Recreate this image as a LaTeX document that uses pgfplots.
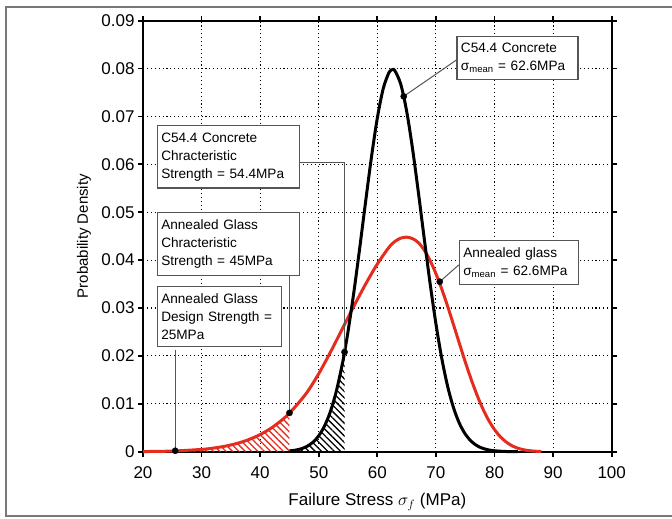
\documentclass[border=0pt]{standalone}
\usepackage{fontspec}
\setmainfont{Liberation Sans}
\usepackage{pgfplots}
\pgfplotsset{compat=1.18}
\usepgfplotslibrary{fillbetween}
\usetikzlibrary{patterns.meta}

\definecolor{glassred}{RGB}{228,45,30}
\definecolor{boxgray}{RGB}{85,85,85}
\definecolor{framegray}{RGB}{120,120,120}

\begin{document}
\begin{tikzpicture}
\begin{axis}[
    scale only axis,
    width=468.7pt, height=431pt,
    xmin=20, xmax=100, ymin=0, ymax=0.09,
    scaled y ticks=false,
    xtick={20,30,40,50,60,70,80,90,100},
    xticklabels={20,30,40,50,60,70,80,90,100},
    ytick={0,0.01,0.02,0.03,0.04,0.05,0.06,0.07,0.08,0.09},
    yticklabels={0,0.01,0.02,0.03,0.04,0.05,0.06,0.07,0.08,0.09},
    /pgf/number format/assume math mode=true,
    tick label style={font=\fontsize{17}{20}\selectfont},
    xticklabel style={yshift=-6pt},
    tick align=outside,
    major tick length=5pt,
    tick style={line width=1.8pt, black},
    axis line style={line width=2pt},
    grid=major,
    grid style={black, line width=1.1pt, dash pattern=on 1.1pt off 2.8pt},
    xlabel={Failure Stress $\sigma_f$ (MPa)},
    ylabel={Probability Density},
    xlabel style={font=\fontsize{17}{20}\selectfont, at={(rel axis cs:0.5,-0.117)}, anchor=center},
    ylabel style={font=\fontsize{15}{18}\selectfont, at={(rel axis cs:-0.126,0.5)}, anchor=center},
    clip=false,
]
% baseline for the hatched areas
\addplot[draw=none, name path=base] coordinates {(20,0) (100,0)};

% annealed glass
\addplot[draw=none, name path=glass, forget plot] coordinates {
 (20,0.00003) (25,0.00013) (30,0.00048) (32,0.00075) (34,0.00115) (36,0.00171)
 (38,0.00250) (40,0.00358) (42,0.00502) (44,0.00690) (45,0.00810) (46,0.00940)
 (48,0.01240) (50,0.01630) (52,0.02080) (54,0.02560) (56,0.03040) (58,0.03500)
 (60,0.03920) (62,0.04270) (63,0.04390) (64,0.04460) (65,0.04480) (66,0.04450)
 (67,0.04366) (68,0.04210) (69,0.03992) (70,0.03717) (71,0.03394) (72,0.03035)
 (73,0.02652) (74,0.02262) (75,0.01878) (76,0.01516) (77,0.01187) (78,0.00898)
 (79,0.00656) (80,0.00461) (81,0.00311) (82,0.00201) (83,0.00123) (84,0.00072)
 (85,0.00040) (86,0.00021) (87,0.00010) (88,0.00005)
};

% C54.4 concrete
\addplot[draw=none, name path=conc, forget plot] coordinates {
 (45,0.00017) (46,0.00032) (47,0.00061) (48,0.00112) (49,0.00197) (50,0.00333)
 (51,0.00541) (52,0.00843) (53,0.01263) (54,0.01818) (54.4,0.02079) (55,0.02514)
 (56,0.03339) (57,0.04262) (58,0.05226) (59,0.06157) (60,0.06970) (61,0.07581)
 (62,0.07922) (62.6,0.07979) (63,0.07954) (64,0.07672) (65,0.07111) (66,0.06332)
 (67,0.05418) (68,0.04453) (69,0.03517) (70,0.02669) (71,0.01946) (72,0.01363)
 (73,0.00918) (74,0.00593) (75,0.00369) (76,0.00220) (77,0.00126) (78,0.00070)
 (79,0.00037) (80,0.00019) (82,0.00004) (84,0)
};

\addplot[pattern={Lines[angle=-45, distance=4.5pt, line width=1.3pt]}, pattern color=glassred]
    fill between[of=glass and base, soft clip={domain=20:45}];
\addplot[pattern={Lines[angle=-45, distance=4.5pt, line width=1.3pt]}, pattern color=black]
    fill between[of=conc and base, soft clip={domain=45:54.4}];

\addplot[glassred, line width=3pt, smooth] coordinates {
 (20,0.00003) (25,0.00013) (30,0.00048) (32,0.00075) (34,0.00115) (36,0.00171)
 (38,0.00250) (40,0.00358) (42,0.00502) (44,0.00690) (45,0.00810) (46,0.00940)
 (48,0.01240) (50,0.01630) (52,0.02080) (54,0.02560) (56,0.03040) (58,0.03500)
 (60,0.03920) (62,0.04270) (63,0.04390) (64,0.04460) (65,0.04480) (66,0.04450)
 (67,0.04366) (68,0.04210) (69,0.03992) (70,0.03717) (71,0.03394) (72,0.03035)
 (73,0.02652) (74,0.02262) (75,0.01878) (76,0.01516) (77,0.01187) (78,0.00898)
 (79,0.00656) (80,0.00461) (81,0.00311) (82,0.00201) (83,0.00123) (84,0.00072)
 (85,0.00040) (86,0.00021) (87,0.00010) (88,0.00005)
};
\addplot[black, line width=3pt, smooth] coordinates {
 (45,0.00017) (46,0.00032) (47,0.00061) (48,0.00112) (49,0.00197) (50,0.00333)
 (51,0.00541) (52,0.00843) (53,0.01263) (54,0.01818) (54.4,0.02079) (55,0.02514)
 (56,0.03339) (57,0.04262) (58,0.05226) (59,0.06157) (60,0.06970) (61,0.07581)
 (62,0.07922) (62.6,0.07979) (63,0.07954) (64,0.07672) (65,0.07111) (66,0.06332)
 (67,0.05418) (68,0.04453) (69,0.03517) (70,0.02669) (71,0.01946) (72,0.01363)
 (73,0.00918) (74,0.00593) (75,0.00369) (76,0.00220) (77,0.00126) (78,0.00070)
 (79,0.00037) (80,0.00019) (82,0.00004) (84,0)
};

% leader lines
\draw[boxgray, line width=1pt] (axis cs:73.5,0.0818) -- (axis cs:64.5,0.0742);
\draw[boxgray, line width=1pt] (axis cs:46.7,0.0603) -| (axis cs:54.4,0.0208);
\draw[boxgray, line width=1pt] (axis cs:45,0.0366) -- (axis cs:45,0.0081);
\draw[boxgray, line width=1pt] (axis cs:25.5,0.0213) -- (axis cs:25.5,0.0002);
\draw[boxgray, line width=1pt] (axis cs:73.9,0.0390) -- (axis cs:70.65,0.0355);

% marked points
\addplot[only marks, mark=*, mark size=3.1pt, black] coordinates {
 (64.5,0.0742) (54.4,0.0208) (45,0.0081) (25.5,0.0002) (70.65,0.0355)
};

% annotation boxes
\tikzset{annot/.style={draw=boxgray, line width=1.1pt, fill=white, anchor=north west,
    align=left, inner xsep=4pt, inner ysep=7pt,
    font=\fontsize{13.6}{18}\selectfont}}
\node[annot, text width=113pt] at (axis cs:73.5,0.0869)
    {C54.4 Concrete\\σ\textsubscript{mean} = 62.6MPa};
\node[annot, text width=134pt] at (axis cs:22.34,0.0682)
    {C54.4 Concrete\\Chracteristic\\Strength = 54.4MPa};
\node[annot, text width=134pt] at (axis cs:22.34,0.0500)
    {Annealed Glass\\Chracteristic\\Strength = 45MPa};
\node[annot, text width=116pt] at (axis cs:22.34,0.0346)
    {Annealed Glass\\Design Strength =\\25MPa};
\node[annot, text width=111pt] at (axis cs:73.9,0.0442)
    {Annealed glass\\σ\textsubscript{mean} = 62.6MPa};
\end{axis}
\draw[framegray, line width=1.3pt]
    ([xshift=62pt,yshift=13.7pt]current axis.north east)
 -- ([xshift=-137pt,yshift=13.7pt]current axis.north west)
 -- ([xshift=-137pt,yshift=-64.3pt]current axis.south west)
 -- ([xshift=62pt,yshift=-64.3pt]current axis.south east);
\pgfresetboundingbox
\path[use as bounding box] ([xshift=-143pt,yshift=-66.3pt]current axis.south west)
    rectangle ([xshift=60.3pt,yshift=20.7pt]current axis.north east);
\end{tikzpicture}
\end{document}
